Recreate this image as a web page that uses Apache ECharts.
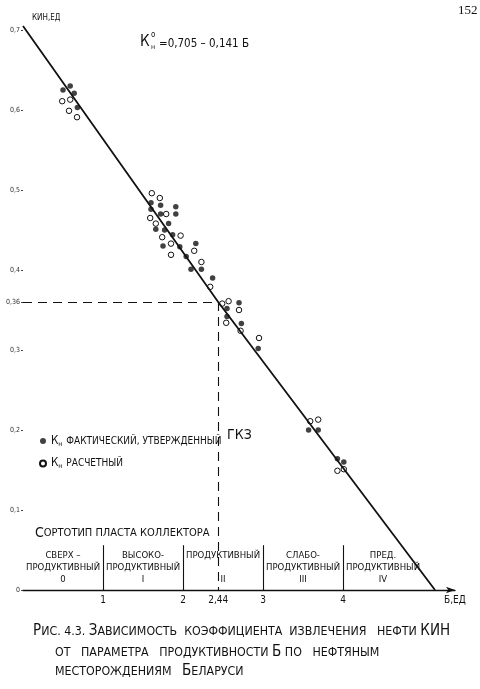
<!DOCTYPE html>
<html>
<head>
<meta charset="utf-8">
<script src="https://cdn.jsdelivr.net/npm/echarts@6/dist/echarts.min.js"></script>
<style>
  html, body { margin: 0; padding: 0; background: #fff; }
  #chart { width: 480px; height: 689px; }
</style>
</head>
<body>
<div id="chart"></div>
<script>
const FONT = '"DejaVu Sans Condensed", "DejaVu Sans", sans-serif'
const INK = '#111'

// Кн фактический, утвержденный ГКЗ  [Б, КИН]
const factPoints = [
  [0.50, 0.625], [0.59, 0.630], [0.64, 0.621], [0.68, 0.603],
  [1.60, 0.484], [1.72, 0.481], [1.91, 0.479], [1.60, 0.476], [1.91, 0.470],
  [1.72, 0.470], [1.82, 0.458], [1.66, 0.451], [1.77, 0.450], [1.87, 0.444],
  [2.16, 0.433], [1.75, 0.430], [1.96, 0.429], [2.04, 0.417], [2.10, 0.401],
  [2.23, 0.401], [2.37, 0.390], [2.70, 0.359], [2.55, 0.352], [2.55, 0.342],
  [2.73, 0.333], [2.94, 0.302],
  [3.57, 0.200], [3.69, 0.200], [3.93, 0.164], [4.01, 0.160]
]
// Кн расчетный  [Б, КИН]
const calcPoints = [
  [0.49, 0.611], [0.59, 0.613], [0.575, 0.599], [0.675, 0.591],
  [1.61, 0.496], [1.71, 0.490], [1.79, 0.470], [1.59, 0.465], [1.66, 0.458],
  [1.97, 0.443], [1.74, 0.441], [1.85, 0.433], [2.14, 0.424], [1.85, 0.419],
  [2.23, 0.410], [2.34, 0.379], [2.57, 0.361], [2.49, 0.358], [2.70, 0.350],
  [2.54, 0.334], [2.72, 0.324], [2.95, 0.315],
  [3.59, 0.211], [3.69, 0.213], [3.93, 0.149], [4.01, 0.151]
]
// линия К = 0,705 - 0,141 Б (как проведена на рисунке)
const trendLine = [[0, 0.705], [2.44, 0.36], [5.15, 0]]

const xTicks = [1, 2, 2.44, 3, 4]
const yTicks = [0, 0.1, 0.2, 0.3, 0.36, 0.4, 0.5, 0.6, 0.7]
const markB = 2.44
const markK = 0.36
const bandEdges = [1, 2, 3, 4]
const bandTop = 0.056
const bands = [
  { from: 0, to: 1, text: 'СВЕРХ –\nПРОДУКТИВНЫЙ\n0' },
  { from: 1, to: 2, text: 'ВЫСОКО-\nПРОДУКТИВНЫЙ\nI' },
  { from: 2, to: 3, text: 'ПРОДУКТИВНЫЙ\n\nII' },
  { from: 3, to: 4, text: 'СЛАБО-\nПРОДУКТИВНЫЙ\nIII' },
  { from: 4, to: 5, text: 'ПРЕД.\nПРОДУКТИВНЫЙ\nIV' }
]

const comma = v => String(v).replace('.', ',')

const chart = echarts.init(document.getElementById('chart'))

chart.setOption({
  backgroundColor: '#fff',
  animation: false,
  textStyle: { fontFamily: FONT, color: INK },
  grid: { left: 23, right: 25, top: 10, bottom: 99 },
  legend: {
    orient: 'vertical',
    left: 34,
    top: 430,
    itemWidth: 6,
    itemHeight: 6,
    itemGap: 10,
    data: ['fact', 'calc'],
    formatter: name => name === 'fact'
      ? '{k|К}{s|н} ФАКТИЧЕСКИЙ, УТВЕРЖДЕННЫЙ'
      : '{k|К}{s|н} РАСЧЕТНЫЙ',
    textStyle: {
      fontFamily: FONT,
      fontSize: 10,
      color: INK,
      rich: {
        k: { fontFamily: FONT, fontSize: 11.5, color: INK },
        s: { fontFamily: FONT, fontSize: 7, color: INK, padding: [6, 1, 0, 0] }
      }
    }
  },
  xAxis: {
    type: 'value',
    min: 0,
    max: 5.4,
    axisLine: {
      onZero: false,
      symbol: ['none', 'arrow'],
      symbolSize: [5, 9],
      lineStyle: { color: INK, width: 1.3 }
    },
    axisTick: { show: false },
    splitLine: { show: false },
    axisLabel: {
      customValues: xTicks,
      formatter: comma,
      margin: 5,
      fontSize: 10,
      color: INK
    }
  },
  yAxis: {
    type: 'value',
    min: 0,
    max: 0.725,
    axisLine: { show: false },
    axisTick: {
      show: true,
      customValues: yTicks,
      length: 2,
      lineStyle: { color: '#444' }
    },
    splitLine: { show: false },
    axisLabel: {
      customValues: yTicks,
      formatter: comma,
      margin: 3,
      fontSize: 7,
      color: '#333'
    }
  },
  series: [
    {
      name: 'trend',
      type: 'line',
      data: trendLine,
      symbol: 'none',
      lineStyle: { color: INK, width: 1.8 },
      silent: true,
      markLine: {
        silent: true,
        symbol: 'none',
        label: { show: false },
        data: [
          [
            { coord: [0, markK], lineStyle: { type: [9, 6], width: 1.1, color: INK } },
            { coord: [markB, markK] }
          ],
          [
            { coord: [markB, markK], lineStyle: { type: [9, 6], width: 1.1, color: INK } },
            { coord: [markB, 0] }
          ],
          ...bandEdges.map(b => [
            { coord: [b, 0], lineStyle: { type: 'solid', width: 1.1, color: INK } },
            { coord: [b, bandTop] }
          ])
        ]
      },
      markArea: {
        silent: true,
        itemStyle: { color: 'rgba(0,0,0,0)' },
        label: {
          show: true,
          position: 'inside',
          fontFamily: FONT,
          fontSize: 9.5,
          lineHeight: 12,
          color: INK,
          align: 'center'
        },
        data: bands.map(b => [
          { coord: [b.from, 0], name: b.text },
          { coord: [b.to, bandTop] }
        ])
      }
    },
    {
      name: 'fact',
      type: 'scatter',
      data: factPoints,
      symbol: 'circle',
      symbolSize: 5.5,
      itemStyle: { color: INK }
    },
    {
      name: 'calc',
      type: 'scatter',
      data: calcPoints,
      symbol: 'circle',
      symbolSize: 5.5,
      itemStyle: { color: '#fff', borderColor: INK, borderWidth: 1, opacity: 1 }
    }
  ],
  graphic: [
    { type: 'text', left: 458, top: 4, style: { text: '152', font: '13px "Liberation Serif", serif', fill: INK } },
    { type: 'text', left: 32, top: 14, style: { text: 'КИН,ЕД', font: '8px ' + FONT, fill: INK } },
    { type: 'text', left: 140, top: 35, style: { text: 'К', font: '15px ' + FONT, fill: INK } },
    { type: 'text', left: 151, top: 31, style: { text: 'о', font: '8px ' + FONT, fill: INK } },
    { type: 'text', left: 151, top: 44, style: { text: 'н', font: '7px ' + FONT, fill: INK } },
    { type: 'text', left: 159, top: 38, style: { text: '=0,705 – 0,141 Б', font: '11.5px ' + FONT, fill: INK } },
    { type: 'text', left: 227, top: 428, style: { text: 'ГКЗ', font: '14px ' + FONT, fill: INK } },
    {
      type: 'text', left: 35, top: 526,
      style: {
        text: '{b|С}ОРТОТИП ПЛАСТА КОЛЛЕКТОРА',
        font: '11px ' + FONT, fill: INK,
        rich: { b: { fontFamily: FONT, fontSize: 14, fill: INK } }
      }
    },
    { type: 'text', left: 444, top: 595, style: { text: 'Б,ЕД', font: '10px ' + FONT, fill: INK } },
    {
      type: 'text', left: 33, top: 624,
      style: {
        text: '{b|Р}ИС. 4.3. {b|З}АВИСИМОСТЬ  КОЭФФИЦИЕНТА  ИЗВЛЕЧЕНИЯ   НЕФТИ {b|КИН}',
        font: '12.3px ' + FONT, fill: INK,
        rich: { b: { fontFamily: FONT, fontSize: 15, fill: INK } }
      }
    },
    {
      type: 'text', left: 55, top: 645,
      style: {
        text: 'ОТ   ПАРАМЕТРА   ПРОДУКТИВНОСТИ {b|Б} ПО   НЕФТЯНЫМ',
        font: '12.3px ' + FONT, fill: INK,
        rich: { b: { fontFamily: FONT, fontSize: 15, fill: INK } }
      }
    },
    {
      type: 'text', left: 55, top: 664,
      style: {
        text: 'МЕСТОРОЖДЕНИЯМ   {b|Б}ЕЛАРУСИ',
        font: '12.3px ' + FONT, fill: INK,
        rich: { b: { fontFamily: FONT, fontSize: 15, fill: INK } }
      }
    }
  ]
})
</script>
</body>
</html>
